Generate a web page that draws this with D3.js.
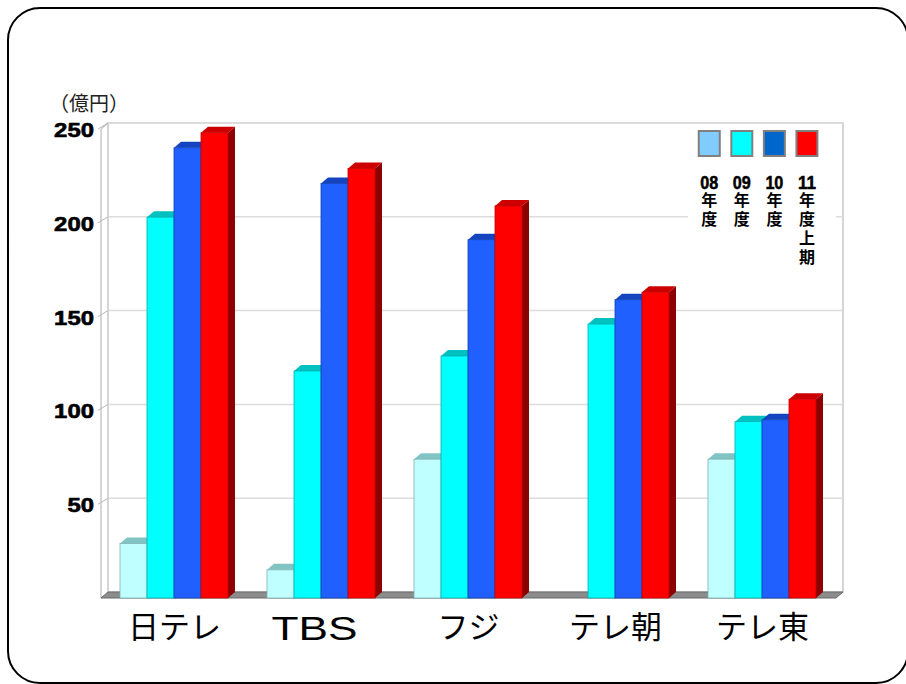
<!DOCTYPE html>
<html>
<head>
<meta charset="utf-8">
<title>億円</title>
<script src="https://d3js.org/d3.v7.min.js"></script>
<style>
  body { margin: 0; background: #fff; }
  text { font-family: "Liberation Sans", Arial, "Noto Sans CJK JP", sans-serif; }
  .jp { font-family: "Noto Sans CJK JP", sans-serif; }
</style>
</head>
<body>
<div id="chart"></div>
<script>
// data
var stations = ["日テレ", "TBS", "フジ", "テレ朝", "テレ東"];
var years = ["08", "09", "10", "11"];
var v08 = [29, 15, 74, 0, 74];
var v09 = [203, 121, 129, 146, 94];
var v10 = [240, 221, 191, 159, 95];
var v11 = [248, 229, 209, 163, 106];
var yTicks = [50, 100, 150, 200, 250];
var legendYears = ["08", "09", "10", "11"];
var legendSub = ["年度", "年度", "年度", "年度上期"];

var series = [v08, v09, v10, v11];
var frontCol = ["#c0ffff", "#00ffff", "#2060ff", "#ff0000"];
var topCol = ["#80c4c4", "#00c0c0", "#1444c0", "#cc0000"];
var sideCol = ["#5fa0a0", "#009c9c", "#0830a0", "#8c0000"];
var edgeCol = ["#80b0b0", "#00b0b0", "#1040b0", "#c00000"];
var legendCol = ["#80ccff", "#00ffff", "#0066cc", "#ff0000"];

var W = 906, H = 684;
var dx = 7, dy = 6; // depth offset (front -> back)

var svg = d3.select("#chart").append("svg")
  .attr("width", W).attr("height", H);

// outer rounded frame
svg.append("rect")
  .attr("x", 8).attr("y", 8).attr("width", 900).attr("height", 675)
  .attr("rx", 32).attr("fill", "none").attr("stroke", "#000").attr("stroke-width", 2);

// scales (front plane)
var x = d3.scaleBand().domain(stations).range([101, 836]);
var xs = d3.scaleBand().domain(years).range([19, 127]);
var y = d3.scaleLinear().domain([0, 250]).range([598, 129]);

// back wall
var bx0 = x.range()[0] + dx, bx1 = x.range()[1] + dx;
svg.append("rect")
  .attr("x", bx0).attr("y", y(250) - dy)
  .attr("width", bx1 - bx0).attr("height", y(0) - y(250))
  .attr("fill", "#fff").attr("stroke", "#c8c8c8").attr("stroke-width", 1.5);

// left wall
svg.append("line")
  .attr("x1", x.range()[0]).attr("x2", x.range()[0])
  .attr("y1", y(250)).attr("y2", y(0))
  .attr("stroke", "#c8c8c8").attr("stroke-width", 1.5);
svg.append("line")
  .attr("x1", x.range()[0]).attr("x2", bx0)
  .attr("y1", y(250)).attr("y2", y(250) - dy)
  .attr("stroke", "#c8c8c8").attr("stroke-width", 1.5);

// gridlines + diagonal ticks
svg.selectAll(".grid").data(yTicks).enter().append("line")
  .attr("x1", bx0).attr("x2", bx1)
  .attr("y1", function(d) { return y(d) - dy; })
  .attr("y2", function(d) { return y(d) - dy; })
  .attr("stroke", "#dcdcdc").attr("stroke-width", 1.5);
svg.selectAll(".diag").data(yTicks).enter().append("line")
  .attr("x1", x.range()[0] - 3).attr("x2", bx0)
  .attr("y1", function(d) { return y(d); })
  .attr("y2", function(d) { return y(d) - dy; })
  .attr("stroke", "#b8b8b8").attr("stroke-width", 1);

// floor
svg.append("polygon")
  .attr("points", [[x.range()[0], y(0)], [x.range()[1], y(0)], [bx1, y(0) - dy], [bx0, y(0) - dy]].join(" "))
  .attr("fill", "#8c8c8c").attr("stroke", "#6a6a6a").attr("stroke-width", 1);

// y labels (wide, heavy digits)
svg.selectAll(".ylab").data(yTicks).enter().append("text")
  .attr("x", 94).attr("y", function(d) { return y(d) + 1; })
  .attr("text-anchor", "end").attr("dominant-baseline", "central")
  .attr("font-size", 20).attr("font-weight", "bold").attr("fill", "#000")
  .attr("stroke", "#000").attr("stroke-width", 0.6)
  .attr("textLength", function(d) { return String(d).length * 13.3; })
  .attr("lengthAdjust", "spacingAndGlyphs")
  .text(function(d) { return d; });

svg.append("text").attr("class", "jp")
  .attr("x", 49).attr("y", 111)
  .attr("font-size", 20).attr("fill", "#222")
  .text("（億円）");

// 3d bars
var bw = xs.bandwidth();
var bars = [];
stations.forEach(function(s, i) {
  years.forEach(function(yr, j) {
    if (series[j][i] > 0) bars.push({ s: s, k: j, yr: yr, v: series[j][i] });
  });
});

var g = svg.selectAll(".bar").data(bars).enter().append("g");
g.append("polygon") // right side
  .attr("points", function(d) {
    var x0 = x(d.s) + xs(d.yr) + bw, t = y(d.v), b = y(0);
    return [[x0, t], [x0 + dx, t - dy], [x0 + dx, b - dy], [x0, b]].join(" ");
  })
  .attr("fill", function(d) { return sideCol[d.k]; });
g.append("polygon") // top
  .attr("points", function(d) {
    var x0 = x(d.s) + xs(d.yr), t = y(d.v);
    return [[x0, t], [x0 + dx, t - dy], [x0 + bw + dx, t - dy], [x0 + bw, t]].join(" ");
  })
  .attr("fill", function(d) { return topCol[d.k]; });
g.append("rect") // front
  .attr("x", function(d) { return x(d.s) + xs(d.yr); })
  .attr("y", function(d) { return y(d.v); })
  .attr("width", bw)
  .attr("height", function(d) { return y(0) - y(d.v); })
  .attr("fill", function(d) { return frontCol[d.k]; })
  .attr("stroke", function(d) { return edgeCol[d.k]; })
  .attr("stroke-width", 0.8);

// category labels
var cat = svg.selectAll(".cat").data(stations).enter().append("text")
  .attr("class", function(d) { return d === "TBS" ? null : "jp"; })
  .attr("x", function(d) { return x(d) + x.bandwidth() / 2 + (d === "TBS" ? -7 : 0); })
  .attr("y", function(d) { return d === "TBS" ? 640 : 638; })
  .attr("text-anchor", "middle")
  .attr("font-size", function(d) { return d === "TBS" ? 33 : 31; })
  .attr("fill", "#000")
  .text(function(d) { return d; });
cat.filter(function(d) { return d === "TBS"; })
  .attr("textLength", 86).attr("lengthAdjust", "spacingAndGlyphs");

// legend
var lg = svg.append("g");
lg.append("rect").attr("x", 688).attr("y", 126).attr("width", 148).attr("height", 146).attr("fill", "#fff");
var lx = d3.scaleBand().domain(legendYears).range([688, 828]).padding(0.3);
lg.selectAll(".lbox").data(legendYears).enter().append("rect")
  .attr("x", function(d) { return lx(d) + 1; }).attr("y", 131)
  .attr("width", 21).attr("height", 25)
  .attr("fill", function(d, i) { return legendCol[i]; })
  .attr("stroke", "#808080").attr("stroke-width", 2);
lg.selectAll(".lnum").data(legendYears).enter().append("text")
  .attr("x", function(d) { return lx(d) + 11.5; }).attr("y", 189)
  .attr("text-anchor", "middle")
  .attr("font-size", 18).attr("font-weight", "bold").attr("fill", "#000")
  .attr("stroke", "#000").attr("stroke-width", 0.5)
  .attr("textLength", 18).attr("lengthAdjust", "spacingAndGlyphs")
  .text(function(d) { return d; });
lg.selectAll(".lsub").data(legendSub).enter().append("text")
  .attr("class", "jp")
  .attr("x", function(d, i) { return lx(legendYears[i]) + 11.5; }).attr("y", 192)
  .attr("writing-mode", "tb")
  .attr("font-size", 16).attr("font-weight", "bold").attr("fill", "#000")
  .attr("letter-spacing", 3)
  .text(function(d) { return d; });
</script>
</body>
</html>
